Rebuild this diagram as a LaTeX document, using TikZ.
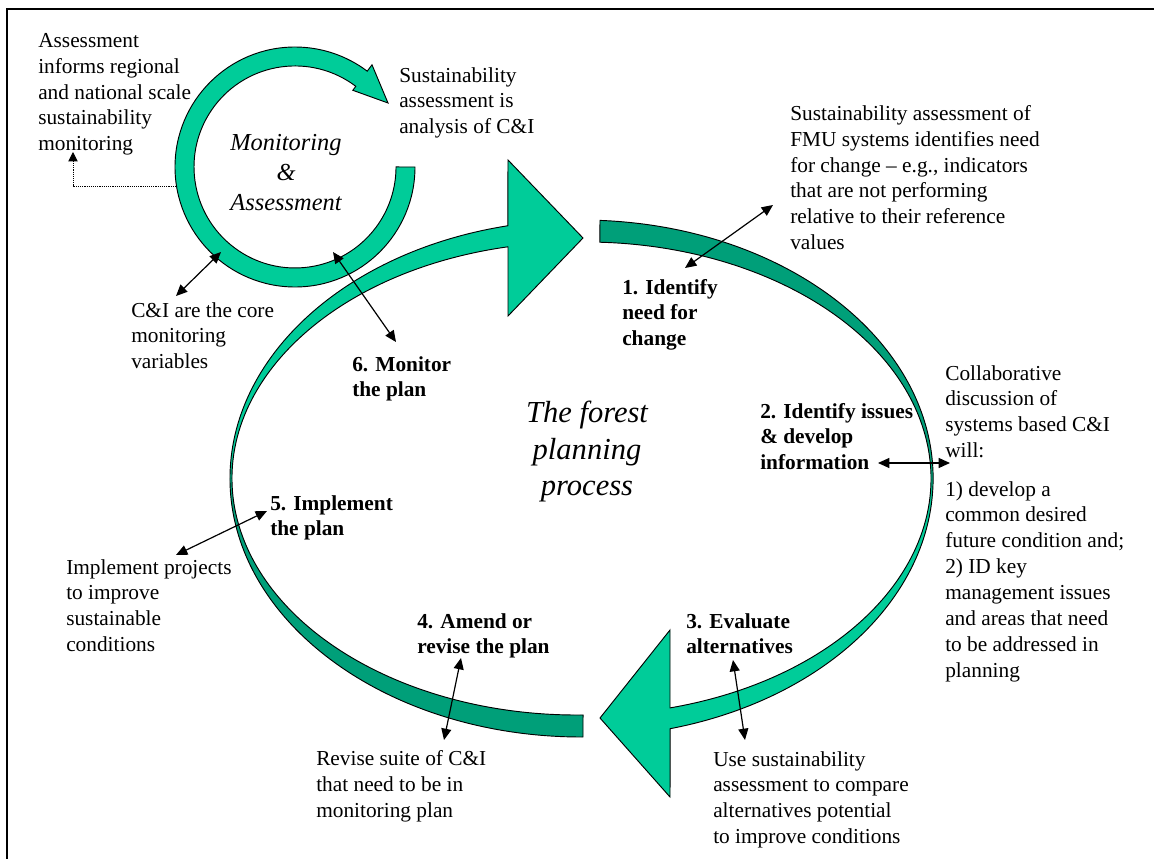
\documentclass[tikz,border=0pt]{standalone}
\usepackage{fontspec}
\setmainfont{Liberation Serif}
\usetikzlibrary{arrows.meta}
\definecolor{lightg}{HTML}{00CC99}
\definecolor{darkg}{HTML}{009F79}
\pgfdeclareverticalshading{ringA}{100bp}{color(0bp)=(lightg); color(51bp)=(lightg); color(56bp)=(darkg); color(100bp)=(darkg)}
\pgfdeclareverticalshading{ringB}{100bp}{color(0bp)=(darkg); color(45bp)=(darkg); color(50bp)=(lightg); color(100bp)=(lightg)}
\newcommand\txtfont{\fontsize{16}{19.4}\selectfont}
\newcommand\stagefont{\fontsize{16}{19.2}\selectfont\bfseries}
\newcommand\bigital{\fontsize{22.9}{27.4}\selectfont\itshape}
\newcommand\midital{\fontsize{18.3}{22.5}\selectfont\itshape}
\tikzset{
  note/.style={font=\txtfont, align=left, inner sep=0pt, anchor=north west},
  stage/.style={font=\stagefont, align=left, inner sep=0pt, anchor=north west},
  ringline/.style={draw=black, line width=0.7pt, line join=miter},
  dbl/.style={{Triangle[length=8.5pt,width=7.5pt]}-{Triangle[length=8.5pt,width=7.5pt]}, line width=0.9pt},
  dotarrow/.style={-{Triangle[length=7pt,width=7pt]}, line width=0.7pt, dash pattern=on 0.7pt off 0.7pt},
  frame/.style={line width=1.6pt}
}
\begin{document}
\begin{tikzpicture}[x=0.75pt,y=-0.75pt]
\useasboundingbox (0,0) rectangle (1154,859);
% frame (top and left edges)
\coordinate (fbl) at (7,859);
\coordinate (ftl) at (7,9);
\coordinate (ftr) at (1154,9);
\draw[frame] (fbl) -- (ftl) -- (ftr);

% big ring, right piece (stage 1 -> 3)
\draw[ringline, shade, shading=ringA] (600,220.4)
  arc[start angle=-87, end angle=75.4, x radius=351.5, y radius=258.5]
  -- (670,797) -- (600,718) -- (670,630) -- (670,707.9)
  arc[start angle=75.9, end angle=-87.7, x radius=345, y radius=236.5] -- cycle;
% big ring, left piece (stage 4 -> 1)
\draw[ringline, shade, shading=ringB] (583,737)
  arc[start angle=89.75, end angle=257.9, x radius=351.5, y radius=258.5]
  -- (508,160) -- (583,238) -- (508,316) -- (508,246.8)
  arc[start angle=258.46, end angle=89.0, x radius=345, y radius=236.5] -- cycle;

% small ring (monitoring & assessment)
\draw[ringline, fill=lightg] (415,167)
  arc[start angle=0, end angle=307, radius=120]
  -- (372.0,64.8) -- (388,103) -- (352.8,90.3) -- (355.8,86.3)
  arc[start angle=307, end angle=0, radius=101] -- cycle;

% texts
\node[note] (assessinf) at (38,33) {Assessment\\informs regional\\and national scale\\sustainability\\monitoring};
\node[note] (saci) at (399,67) {Sustainability\\assessment is\\analysis of C\&I};
\node[note] (fmu) at (790,105) {Sustainability assessment of\\FMU systems identifies need\\for change – e.g., indicators\\that are not performing\\relative to their reference\\values};
\node[font=\midital, align=center, inner sep=0pt, anchor=north] (ma) at (286,134) {Monitoring\\\&\\Assessment};
\node[note] (core) at (131,302) {C\&I are the core\\monitoring\\variables};
\node[stage] (s6) at (352,356) {6. Monitor\\the plan};
\node[stage] (s1) at (622,279) {1. Identify\\need for\\change};
\node[note] (collab) at (945,365) {Collaborative\\discussion of\\systems based C\&I\\will:};
\node[note] (cond) at (945,481) {1) develop a\\common desired\\future condition and;\\2) ID key\\management issues\\and areas that need\\to be addressed in\\planning};
\node[stage] (s2) at (760,403) {2. Identify issues\\\& develop\\information};
\node[font=\bigital, align=center, inner sep=0pt, anchor=north] (fpp) at (587,401) {The forest\\planning\\process};
\node[stage] (s5) at (270,495) {5. Implement\\the plan};
\node[note] (impl) at (66,559) {Implement projects\\to improve\\sustainable\\conditions};
\node[stage] (s4) at (417,613) {4. Amend or\\revise the plan};
\node[stage] (s3) at (686,613) {3. Evaluate\\alternatives};
\node[note] (revise) at (316,750) {Revise suite of C\&I\\that need to be in\\monitoring plan};
\node[note] (use) at (713,751) {Use sustainability\\assessment to compare\\alternatives potential\\to improve conditions};

% connector end points
\coordinate (dotA) at (176,186);
\coordinate (dotB) at (73,186);
\coordinate (dotC) at (73,152);
\coordinate (coreA) at (176,296);
\coordinate (coreB) at (221,252);
\coordinate (monA) at (333,252);
\coordinate (monB) at (396,342);
\coordinate (idA) at (685,268);
\coordinate (idB) at (773,205);
\coordinate (issA) at (878,463);
\coordinate (issB) at (950,463);
\coordinate (evA) at (733,660);
\coordinate (evB) at (745,740);
\coordinate (amA) at (461,658);
\coordinate (amB) at (444,740);
\coordinate (imA) at (267,511);
\coordinate (imB) at (176,555);

% connectors
\draw[dotarrow] (dotA) -- (dotB) -- (dotC);
\draw[dbl] (coreA) -- (coreB);
\draw[dbl] (monA) -- (monB);
\draw[dbl] (idA) -- (idB);
\draw[dbl] (issA) -- (issB);
\draw[dbl] (evA) -- (evB);
\draw[dbl] (amA) -- (amB);
\draw[dbl] (imA) -- (imB);
\end{tikzpicture}
\end{document}
